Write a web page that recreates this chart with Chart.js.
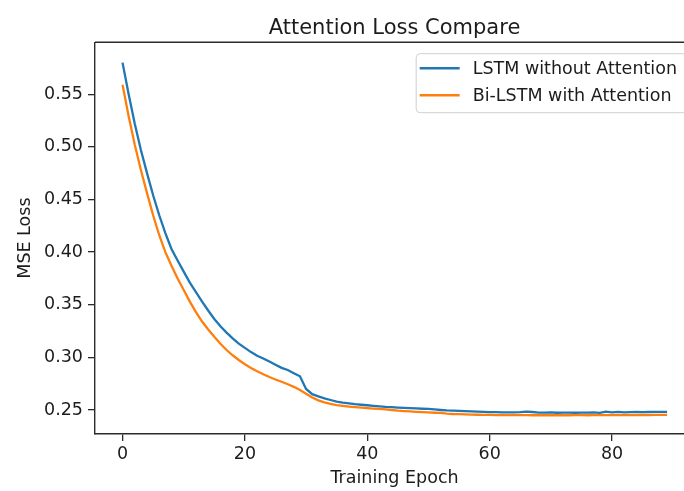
<!DOCTYPE html>
<html>
<head>
<meta charset="utf-8">
<script src="https://cdn.jsdelivr.net/npm/chart.js@4/dist/chart.umd.min.js"></script>
<style>
  html, body { margin: 0; padding: 0; background: #fff; overflow: hidden; }
  #wrap { width: 684px; height: 491px; overflow: hidden; }
  canvas { display: block; }
</style>
</head>
<body>
<div id="wrap"><canvas id="loss-chart" width="720" height="491"></canvas></div>
<script>
// values
const epochs = [0,1,2,3,4,5,6,7,8,9,10,11,12,13,14,15,16,17,18,19,20,21,22,23,24,25,26,27,28,29,
  30,31,32,33,34,35,36,37,38,39,40,41,42,43,44,45,46,47,48,49,50,51,52,53,54,55,56,57,58,59,
  60,61,62,63,64,65,66,67,68,69,70,71,72,73,74,75,76,77,78,79,80,81,82,83,84,85,86,87,88,89];

const lstmLoss = [0.580,0.550,0.522,0.497,0.475,0.454,0.435,0.418,0.403,0.392,
  0.3815,0.371,0.362,0.353,0.3445,0.3365,0.3295,0.3235,0.318,0.313,
  0.309,0.305,0.3015,0.299,0.296,0.293,0.290,0.288,0.285,0.282,
  0.270,0.265,0.263,0.261,0.2595,0.258,0.257,0.2562,0.2555,0.255,
  0.2545,0.254,0.2535,0.253,0.2527,0.2523,0.252,0.2518,0.2515,0.2512,
  0.251,0.2505,0.250,0.2496,0.2494,0.2492,0.249,0.2487,0.2485,0.2482,
  0.248,0.2479,0.2478,0.2478,0.2477,0.248,0.2485,0.2481,0.2476,0.2475,
  0.2478,0.2474,0.2475,0.2476,0.2474,0.2476,0.2475,0.2477,0.2473,0.2484,
  0.2478,0.2482,0.2477,0.2479,0.2481,0.248,0.2481,0.2482,0.2482,0.2482];

const biLstmLoss = [0.559,0.529,0.502,0.478,0.456,0.435,0.416,0.400,0.387,0.375,
  0.364,0.353,0.343,0.334,0.3265,0.3195,0.313,0.307,0.302,0.2975,
  0.2935,0.290,0.2868,0.284,0.2813,0.279,0.2768,0.2745,0.272,0.269,
  0.2655,0.2618,0.2592,0.2573,0.2558,0.2547,0.254,0.2533,0.2527,0.2522,
  0.2518,0.2514,0.251,0.2505,0.250,0.2494,0.249,0.2486,0.2483,0.248,
  0.2477,0.2474,0.2472,0.2466,0.2462,0.246,0.2458,0.2457,0.2455,0.2454,
  0.2453,0.2452,0.2452,0.2451,0.2451,0.2452,0.2451,0.245,0.245,0.2451,
  0.245,0.2451,0.245,0.245,0.2451,0.2451,0.245,0.2451,0.2452,0.2452,
  0.2452,0.2452,0.2451,0.2452,0.2452,0.2453,0.2452,0.2453,0.2453,0.2453];

const seriesLabels = ['LSTM without Attention', 'Bi-LSTM with Attention'];
const xTicks = [0, 20, 40, 60, 80];
const yTicks = [0.25, 0.30, 0.35, 0.40, 0.45, 0.50, 0.55];

const FONT = '"DejaVu Sans", sans-serif';
const INK = '#1c1c1c';
const SPINE = '#2b2b2b';

// top/right spines and the boxed legend, matplotlib style
const framePlugin = {
  id: 'frame',
  afterDraw(chart) {
    const { ctx, chartArea: a } = chart;
    ctx.save();
    ctx.strokeStyle = SPINE;
    ctx.lineWidth = 1.4;
    ctx.beginPath();
    ctx.moveTo(a.left, a.top);
    ctx.lineTo(a.right, a.top);
    ctx.lineTo(a.right, a.bottom);
    ctx.stroke();

    // legend
    ctx.font = '17.5px ' + FONT;
    const textW = Math.max(...seriesLabels.map(s => ctx.measureText(s).width));
    const handle = 40, pad = 4, gap = 13, rowH = 27;
    const w = pad + handle + gap + textW + 9;
    const h = rowH * seriesLabels.length + 5;
    const right = a.right - 8, top = a.top + 11;
    const left = right - w;
    ctx.fillStyle = 'rgba(255,255,255,0.85)';
    ctx.strokeStyle = '#cfcfcf';
    ctx.lineWidth = 1;
    ctx.beginPath();
    ctx.roundRect(left + 0.5, top + 0.5, w, h, 4);
    ctx.fill();
    ctx.stroke();
    chart.data.datasets.forEach((ds, i) => {
      const y = top + 15 + i * rowH;
      ctx.strokeStyle = ds.borderColor;
      ctx.lineWidth = 2.4;
      ctx.beginPath();
      ctx.moveTo(left + pad, y);
      ctx.lineTo(left + pad + handle, y);
      ctx.stroke();
      ctx.fillStyle = INK;
      ctx.textBaseline = 'middle';
      ctx.textAlign = 'left';
      ctx.fillText(seriesLabels[i], left + pad + handle + gap, y + 1);
    });
    ctx.restore();
  }
};

const toPoints = arr => epochs.map((e, i) => ({ x: e, y: arr[i] }));

new Chart(document.getElementById('loss-chart').getContext('2d'), {
  type: 'line',
  data: {
    datasets: [
      { label: seriesLabels[0], data: toPoints(lstmLoss), borderColor: '#1f77b4', borderWidth: 2.3,
        pointRadius: 0, tension: 0, fill: false, order: 1 },
      { label: seriesLabels[1], data: toPoints(biLstmLoss), borderColor: '#ff7f0e', borderWidth: 2.3,
        pointRadius: 0, tension: 0, fill: false, order: 0 }
    ]
  },
  options: {
    responsive: false,
    animation: false,
    devicePixelRatio: 1,
    layout: { padding: { left: 0, right: 26, top: 0, bottom: 0 } },
    plugins: {
      legend: { display: false },
      tooltip: { enabled: false },
      title: {
        display: true,
        text: 'Attention Loss Compare',
        fullSize: false,
        color: INK,
        font: { family: FONT, size: 21, weight: 'normal', lineHeight: 1.2 },
        padding: { top: 16, bottom: 1 }
      }
    },
    scales: {
      x: {
        type: 'linear',
        min: -4.5,
        max: 93.4,
        afterBuildTicks: s => { s.ticks = xTicks.map(v => ({ value: v })); },
        afterFit: s => { s.height = 57; },
        grid: { drawOnChartArea: false, drawTicks: true, tickLength: 7, color: SPINE, lineWidth: 1.3 },
        border: { display: true, color: SPINE, width: 1.4 },
        ticks: { color: INK, padding: 3, maxRotation: 0, font: { family: FONT, size: 17.5 }, callback: v => v },
        title: { display: true, text: 'Training Epoch', color: INK, padding: { top: 2, bottom: 2 },
                 font: { family: FONT, size: 17.5, lineHeight: 1.2 } }
      },
      y: {
        type: 'linear',
        min: 0.2272,
        max: 0.5994,
        afterBuildTicks: s => { s.ticks = yTicks.map(v => ({ value: v })); },
        afterFit: s => { s.width = 95; },
        grid: { drawOnChartArea: false, drawTicks: true, tickLength: 7, color: SPINE, lineWidth: 1.3 },
        border: { display: true, color: SPINE, width: 1.4 },
        ticks: { color: INK, padding: 5, font: { family: FONT, size: 17.5 }, callback: v => v.toFixed(2) },
        title: { display: true, text: 'MSE Loss', color: INK, padding: { top: 15, bottom: 0 },
                 font: { family: FONT, size: 17.5, lineHeight: 1.2 } }
      }
    }
  },
  plugins: [framePlugin]
});
</script>
</body>
</html>
